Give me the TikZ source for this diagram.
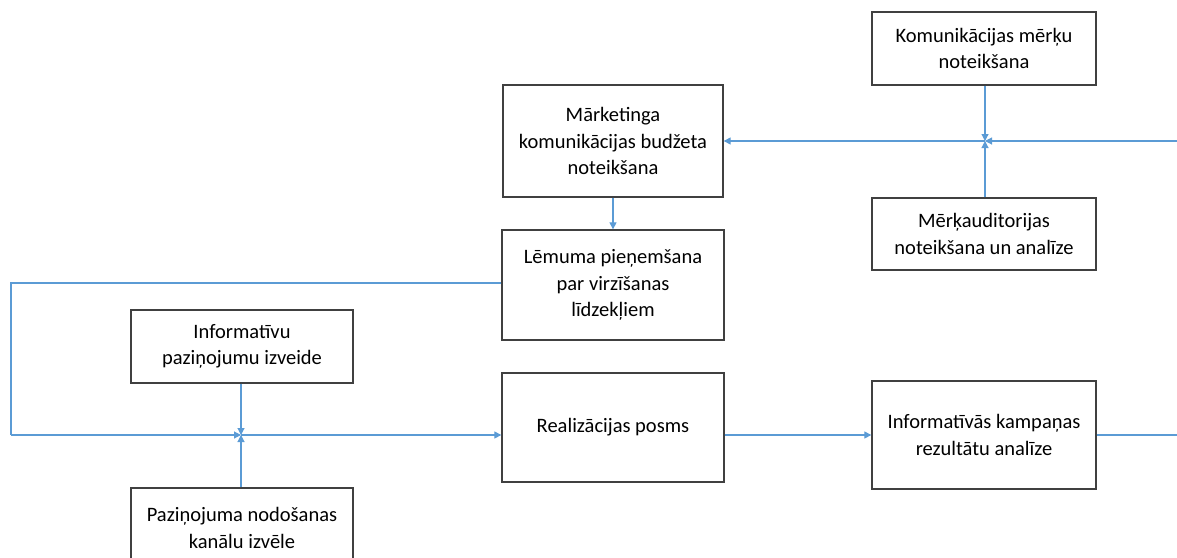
\documentclass[tikz,border=0pt]{standalone}
\usepackage{fontspec}
\setmainfont{Carlito}
\usepackage{tikz}
\usetikzlibrary{arrows.meta,positioning}
\definecolor{edge}{HTML}{404040}
\definecolor{flow}{HTML}{5B9BD5}
\tikzset{
  box/.style={draw=edge,line width=1.3pt,fill=white,align=center,inner sep=4pt,font=\fontsize{20.5}{26.5}\selectfont},
  arr/.style={-{Triangle[length=7pt,width=7pt]},line width=1.1pt,color=flow},
  ln/.style={line width=1.1pt,color=flow}}

\begin{document}
\begin{tikzpicture}[x=1pt,y=-1pt]
\useasboundingbox (0,0) rectangle (1177,557);
\node[box,minimum width=224pt,minimum height=73pt] (goals) at (984,48.5) {Komunikācijas mērķu\\noteikšana};
\node[box,minimum width=220pt,minimum height=112pt] (budget) at (613,141) {Mārketinga\\komunikācijas budžeta\\noteikšana};
\node[box,minimum width=224pt,minimum height=72pt] (audience) at (984,234) {Mērķauditorijas\\noteikšana un analīze};
\node[box,minimum width=222pt,minimum height=110pt] (decision) at (613,285) {Lēmuma pieņemšana\\par virzīšanas\\līdzekļiem};
\node[box,minimum width=222pt,minimum height=73pt] (messages) at (242,346.5) {Informatīvu\\paziņojumu izveide};
\node[box,minimum width=222pt,minimum height=109pt] (realization) at (613,427.5) {Realizācijas posms};
\node[box,minimum width=224pt,minimum height=108pt] (results) at (984,435) {Informatīvās kampaņas\\rezultātu analīze};
\node[box,minimum width=222pt,minimum height=80pt] (channels) at (242,528) {Paziņojuma nodošanas\\kanālu izvēle};
% junctions and loose ends
\coordinate (topj) at (985,141);
\coordinate (lowj) at (241,435);
\coordinate (edgetop) at (1180,141);
\coordinate (edgelow) at (1180,435);
\coordinate (leftup) at (11,283);
\coordinate (leftdown) at (11,435);
% top part
\draw[arr] (goals.south -| topj) -- (topj);
\draw[arr] (audience.north -| topj) -- (topj);
\draw[arr] (edgetop) -- (topj);
\draw[arr] (topj) -- (budget.east |- topj);
\draw[arr] (budget.south) -- (decision.north);
% loop on the left
\draw[ln] (decision.west |- leftup) -- (leftup) -- (leftdown);
\draw[arr] (leftdown) -- (lowj);
\draw[arr] (messages.south -| lowj) -- (lowj);
\draw[arr] (channels.north -| lowj) -- (lowj);
\draw[arr] (lowj) -- (realization.west |- lowj);
\draw[arr] (realization.east |- lowj) -- (results.west |- lowj);
\draw[ln] (results.east |- lowj) -- (edgelow);
\end{tikzpicture}
\end{document}
